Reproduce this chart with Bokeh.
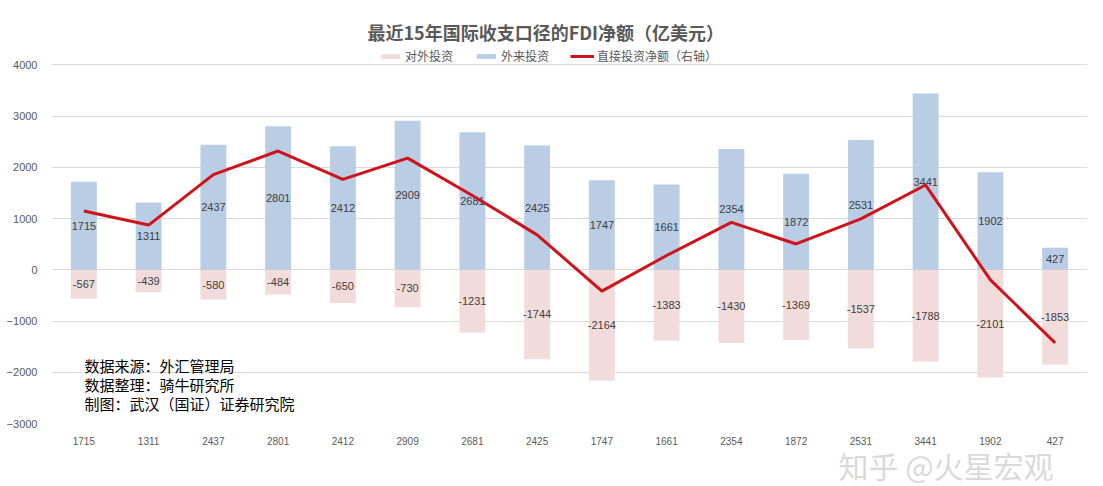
from bokeh.plotting import figure
from bokeh.models import (FactorRange, Range1d, FixedTicker, Label, Legend,
                          LegendItem, ColumnDataSource, Title)
from bokeh.core.properties import value
from bokeh.embed import file_html
from bokeh.resources import INLINE

# ---------------- data ----------------
categories = ["1715", "1311", "2437", "2801", "2412", "2909", "2681", "2425",
              "1747", "1661", "2354", "1872", "2531", "3441", "1902", "427"]
inflow = [1715, 1311, 2437, 2801, 2412, 2909, 2681, 2425,
          1747, 1661, 2354, 1872, 2531, 3441, 1902, 427]
outflow = [-567, -439, -580, -484, -650, -730, -1231, -1744,
           -2164, -1383, -1430, -1369, -1537, -1788, -2101, -1853]
net = [1148, 872, 1857, 2317, 1762, 2179, 1450, 681,
       -417, 278, 924, 503, 994, 1653, -199, -1426]
y_ticks = [-3000, -2000, -1000, 0, 1000, 2000, 3000, 4000]
title_text = "最近15年国际收支口径的FDI净额（亿美元）"
series_names = ["对外投资", "外来投资", "直接投资净额（右轴）"]
notes = ["数据来源：外汇管理局", "数据整理：骑牛研究所", "制图：武汉（国证）证券研究院"]
watermark = "知乎 @火星宏观"

# ---------------- styling ----------------
BLUE = "#B9CDE5"
PINK = "#F2DCDB"
RED = "#D0121B"
CJK = "Noto Sans CJK SC"
NUM = "Liberation Sans"

W, H = 1090, 486
TOP, LEFT, FRAME_W, FRAME_H = 45, 51, 1036, 378
Y_BOTTOM = -3000
Y_TOP = Y_BOTTOM + FRAME_H / 51.25 * 1000   # headroom above the 4000 gridline

src = ColumnDataSource(dict(
    cat=categories,
    inflow=inflow,
    outflow=outflow,
    net=net,
    in_mid=[v / 2 for v in inflow],
    out_mid=[v / 2 for v in outflow],
    in_txt=[str(v) for v in inflow],
    out_txt=[str(v) for v in outflow],
))

p = figure(width=W, height=H, output_backend="svg", toolbar_location=None,
           x_range=FactorRange(factors=categories, range_padding=0),
           y_range=Range1d(Y_BOTTOM, Y_TOP),
           min_border_left=LEFT, min_border_right=W - LEFT - FRAME_W,
           min_border_top=TOP, min_border_bottom=H - TOP - FRAME_H)
p.extra_y_ranges = {"right": Range1d(Y_BOTTOM, Y_TOP)}

p.outline_line_color = None
p.background_fill_color = "white"
p.border_fill_color = "white"

p.xgrid.grid_line_color = None
p.ygrid.grid_line_color = "#D9D9D9"
p.ygrid.grid_line_width = 1
p.yaxis.ticker = FixedTicker(ticks=y_ticks)

for ax in (p.xaxis[0], p.yaxis[0]):
    ax.axis_line_color = None
    ax.major_tick_line_color = None
    ax.minor_tick_line_color = None
    ax.major_tick_out = 0
    ax.major_tick_in = 0
    ax.major_label_text_color = "#595959"
    ax.major_label_text_font = NUM

p.yaxis.major_label_text_font_size = "11px"
p.yaxis.major_label_standoff = 14
p.xaxis.major_label_text_font_size = "10px"
p.xaxis.major_label_standoff = 13

r_out = p.vbar(x="cat", top="outflow", bottom=0, width=0.4, source=src,
               fill_color=PINK, line_color=None)
r_in = p.vbar(x="cat", top="inflow", bottom=0, width=0.4, source=src,
              fill_color=BLUE, line_color=None)

p.text(x="cat", y="in_mid", text="in_txt", source=src, text_align="center",
       text_baseline="middle", text_font=value(NUM), text_font_size="11px",
       text_color="#404040")
p.text(x="cat", y="out_mid", text="out_txt", source=src, text_align="center",
       text_baseline="middle", text_font=value(NUM), text_font_size="11px",
       text_color="#404040")

r_net = p.line(x="cat", y="net", source=src, line_color=RED, line_width=3,
               y_range_name="right")

# title (above panel)
p.title.text = title_text
p.title.align = "left"
p.title.offset = 316
p.title.text_font = CJK
p.title.text_font_size = "18px"
p.title.text_font_style = "bold"
p.title.text_color = "#595959"
p.title.standoff = 1

legend = Legend(items=[LegendItem(label=series_names[0], renderers=[r_out]),
                       LegendItem(label=series_names[1], renderers=[r_in]),
                       LegendItem(label=series_names[2], renderers=[r_net])],
                orientation="horizontal", location=(327, FRAME_H - 19),
                label_text_font=CJK, label_text_font_size="12px",
                label_text_color="#595959", glyph_width=24, glyph_height=6,
                label_height=14, label_standoff=3, spacing=21, padding=0,
                margin=0, border_line_color=None, background_fill_alpha=0)
p.add_layout(legend, "center")

for i, t in enumerate(notes):
    p.add_layout(Label(x=33, y=58 - 19 * i, x_units="screen", y_units="screen",
                       text=t, text_align="left", text_baseline="middle",
                       text_font=CJK, text_font_size="15px",
                       text_color="#000000"))

wm = Title(text=watermark, align="left", offset=787, text_font=CJK,
           text_font_size="30px", text_font_style="normal",
           text_color="#C8C8C8", text_alpha=0.7, standoff=-14)
p.add_layout(wm, "below")

open("out.html", "w").write(file_html(p, INLINE))
